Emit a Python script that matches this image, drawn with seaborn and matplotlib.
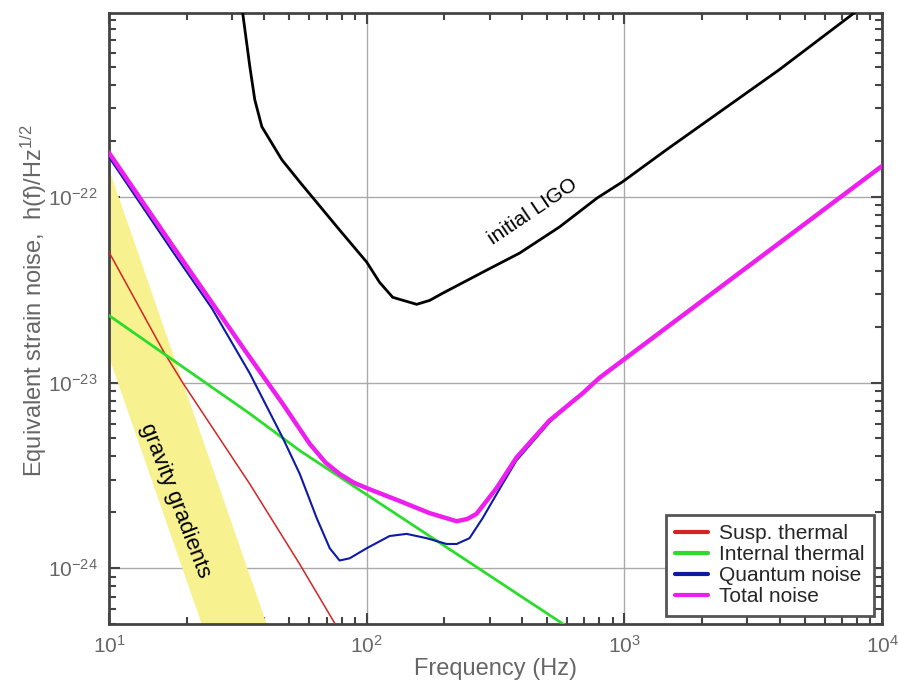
import numpy as np
import pandas as pd
import matplotlib
matplotlib.use('Agg')
import matplotlib.pyplot as plt
import seaborn as sns
from matplotlib.ticker import FixedLocator, LogFormatterSciNotation, NullFormatter

# values (frequency in Hz, strain in 1/sqrt(Hz))
susp_freq = [10, 16.2, 19.4, 35.2, 55.0, 76.0]
susp_h = [5.05e-23, 1.49e-23, 9.9e-24, 2.84e-24, 1.05e-24, 4.92e-25]

internal_freq = [10, 35.2, 55.0, 700]
internal_h = [2.30e-23, 6.8e-24, 4.3e-24, 4.2e-25]

quantum_freq = [10, 17.8, 25.1, 35.2, 47.2, 55.0, 64.0, 71.9, 78.5, 85.9, 100,
                122.7, 142.9, 171.0, 204.2, 223.4, 250.6, 281.8, 336.5, 381.1,
                511.7, 799.8, 10000]
quantum_h = [1.64e-22, 5.01e-23, 2.51e-23, 1.12e-23, 5.05e-24, 3.22e-24, 1.86e-24,
             1.28e-24, 1.10e-24, 1.13e-24, 1.28e-24, 1.49e-24, 1.53e-24, 1.45e-24,
             1.35e-24, 1.35e-24, 1.45e-24, 1.86e-24, 2.84e-24, 3.80e-24, 6.10e-24,
             1.05e-23, 1.46e-22]

total_freq = [10, 17.8, 33.7, 47.2, 60.1, 69.2, 78.5, 89.1, 100, 134.3, 175.4,
              223.4, 245.5, 266.7, 319.2, 381.1, 511.7, 687.1, 799.8, 10000]
total_h = [1.73e-22, 5.37e-23, 1.49e-23, 7.69e-24, 4.68e-24, 3.71e-24, 3.22e-24,
           2.89e-24, 2.70e-24, 2.30e-24, 1.98e-24, 1.79e-24, 1.84e-24, 1.96e-24,
           2.70e-24, 3.94e-24, 6.24e-24, 8.73e-24, 1.06e-23, 1.47e-22]

ligo_freq = [32.5, 33.0, 35.2, 36.8, 39.2, 46.9, 55.0, 78.5, 100, 112.2, 126.2,
             156.3, 175.4, 197.2, 291.7, 391.7, 559.8, 785.2, 981.7, 1455, 3990,
             7852, 10000]
ligo_h = [1.2e-21, 9.89e-22, 5.05e-22, 3.34e-22, 2.39e-22, 1.585e-22, 1.205e-22,
          6.64e-23, 4.46e-23, 3.47e-23, 2.88e-23, 2.64e-23, 2.77e-23, 3.03e-23,
          4.03e-23, 4.98e-23, 6.89e-23, 9.89e-23, 1.205e-22, 1.795e-22, 4.85e-22,
          9.89e-22, 1.27e-21]

# gravity gradient band (upper and lower edges)
gg_freq = [10, 41]
gg_upper = [1.4e-22, 4.9e-25]
gg_lower = [1.36e-23, 4.8e-26]

legend_labels = ['Susp. thermal', 'Internal thermal', 'Quantum noise', 'Total noise']
x_major = [1e1, 1e2, 1e3, 1e4]
y_major = [1e-24, 1e-23, 1e-22]

sns.set_theme(style='ticks')
plt.rcParams['font.family'] = ['Liberation Sans', 'DejaVu Sans']
plt.rcParams['mathtext.default'] = 'regular'

fig = plt.figure(figsize=(8.99, 6.89), dpi=100)
ax = fig.add_axes([0.1212, 0.0943, 0.8600, 0.8868])
ax.set_xscale('log')
ax.set_yscale('log')

ax.fill_between(gg_freq, gg_lower, gg_upper, color='#f7f18f', lw=0, zorder=1)

curves = [
    (susp_freq, susp_h, '#d42323', 1.1, legend_labels[0]),
    (internal_freq, internal_h, '#2bdc2b', 2.0, legend_labels[1]),
    (quantum_freq, quantum_h, '#0c1aa6', 1.5, legend_labels[2]),
    (total_freq, total_h, '#ee1fee', 3.2, legend_labels[3]),
]
for fr, hv, col, lw, lab in curves:
    df = pd.DataFrame({'f': fr, 'h': hv})
    sns.lineplot(data=df, x='f', y='h', color=col, lw=lw, label=lab,
                 estimator=None, ax=ax, zorder=3)

df_ligo = pd.DataFrame({'f': ligo_freq, 'h': ligo_h})
sns.lineplot(data=df_ligo, x='f', y='h', color='black', lw=2.0,
             estimator=None, ax=ax, zorder=3)

ax.set_xlim(10, 1e4)
ax.set_ylim(5.0e-25, 9.8e-22)

minor_x = [m * 10.0 ** e for e in range(1, 4) for m in range(2, 10)]
minor_y = [m * 10.0 ** e for e in range(-25, -21) for m in range(2, 10)]
minor_y = [v for v in minor_y if 5.0e-25 <= v <= 9.8e-22]
ax.xaxis.set_major_locator(FixedLocator(x_major))
ax.yaxis.set_major_locator(FixedLocator(y_major))
ax.xaxis.set_major_formatter(LogFormatterSciNotation())
ax.yaxis.set_major_formatter(LogFormatterSciNotation())
ax.xaxis.set_minor_locator(FixedLocator(minor_x))
ax.yaxis.set_minor_locator(FixedLocator(minor_y))
ax.xaxis.set_minor_formatter(NullFormatter())
ax.yaxis.set_minor_formatter(NullFormatter())

ax.grid(True, which='major', color='#aaaaaa', lw=1.0)
ax.grid(False, which='minor')
ax.tick_params(which='both', direction='in', top=True, right=True,
               color='#444444', width=1.5, labelsize=15, labelcolor='#666666')
ax.tick_params(which='major', length=8, pad=8)
ax.tick_params(which='minor', length=5)
for sp in ax.spines.values():
    sp.set_color('#444444')
    sp.set_linewidth(2.0)
    sp.set_visible(True)

ax.set_xlabel('Frequency (Hz)', fontsize=17, color='#666666', labelpad=1)
ax.set_ylabel(r'Equivalent strain noise,  h(f)/Hz$^{1/2}$', fontsize=17,
              color='#666666')
ax.yaxis.set_label_coords(-0.077, 0.53)

ax.text(440, 8.3e-23, 'initial LIGO', rotation=34, rotation_mode='anchor',
        ha='center', va='center', fontsize=15, color='black', zorder=4)
ax.text(18.0, 2.3e-24, 'gravity gradients', rotation=-69, rotation_mode='anchor',
        ha='center', va='center', fontsize=16, color='black', zorder=4)

leg = ax.legend(loc='lower right', fontsize=15, frameon=True, fancybox=False,
                handlelength=1.6, handletextpad=0.5, borderpad=0.45,
                labelspacing=0.1, borderaxespad=0.4)
leg.get_frame().set_edgecolor('#555555')
leg.get_frame().set_linewidth(2.0)
leg.get_frame().set_alpha(1)
for line in leg.get_lines():
    line.set_linewidth(3.0)

fig.savefig('out.png', dpi=100)
